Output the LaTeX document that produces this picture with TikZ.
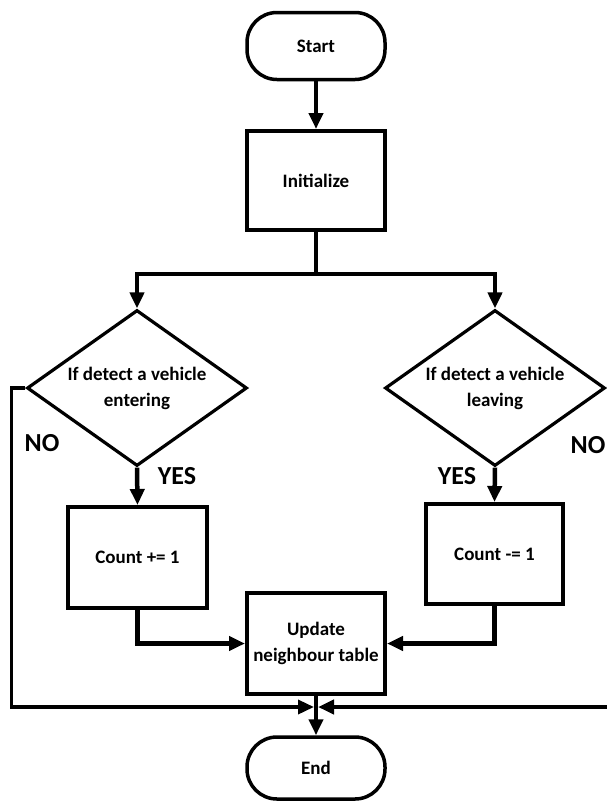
\documentclass[tikz,border=0pt]{standalone}
\usepackage{fontspec}
\setmainfont{Carlito}
\usetikzlibrary{arrows.meta,shapes.geometric}

\tikzset{
  base/.style={draw=black, font=\bfseries\fontsize{19}{26}\selectfont, align=center, inner sep=1pt},
  terminal/.style={base, rectangle, line width=3.5pt, minimum width=138pt, rounded corners=30pt},
  process/.style={base, rectangle, line width=4pt, minimum width=138pt, minimum height=100pt},
  decision/.style={base, diamond, line width=3.2pt, aspect=1.41, minimum width=220pt, minimum height=156pt, inner sep=0pt},
  flow/.style={line width=4.5pt, -{Triangle[length=16pt,width=14pt]}},
  plain/.style={line width=4.5pt},
  answer/.style={font=\bfseries\fontsize{26}{30}\selectfont, inner sep=0pt}
}

\begin{document}
\begin{tikzpicture}[x=1pt,y=-1pt]
\useasboundingbox[fill=white] (0,0) rectangle (607,801);
\clip (0,0) rectangle (607,801);

% nodes
\node[terminal, minimum height=67pt] (start) at (316,46) {Start};
\node[process, minimum height=99pt] (init) at (316,180.5) {Initialize};
\node[decision] (d1) at (137,388) {If detect a vehicle\\entering};
\node[decision] (d2) at (495,388) {If detect a vehicle\\leaving};
\node[process, minimum width=139pt, minimum height=101pt] (c1) at (137.5,557.5) {Count += 1};
\node[process, minimum width=137pt] (c2) at (494.5,554) {Count -= 1};
\node[process, minimum height=101pt] (upd) at (316,643.5) {Update\\neighbour table};
\node[terminal, minimum height=62pt] (end) at (316,768) {End};

% branch and merge points
\coordinate (split) at (316,274);
\coordinate (merge) at (316,707);

% labels
\node[answer] (noL) at (42,443) {NO};
\node[answer] (noR) at (588,445) {NO};
\node[answer] (yesL) at (177,476) {YES};
\node[answer] (yesR) at (457,476) {YES};

% connectors
\draw[flow] (start) -- (init);
\draw[plain] (init.south) -- (split);
\draw[flow] (split) -| (d1.north);
\draw[flow] (split) -| (d2.north);
\draw[flow] (d1.south) -- (c1.north);
\draw[flow] (d2.south) -- (c2.north);
\draw[flow] (c1.south) |- (upd.west);
\draw[flow] (c2.south) |- (upd.east);
\draw[flow, line width=3.5pt] (d1.west) -- ++(-14,0) |- ([xshift=-2pt]merge);
\draw[flow] (d2.east) -- ++(40,0) |- ([xshift=2pt]merge);
\draw[flow] (upd.south) -- (end.north);
\end{tikzpicture}
\end{document}
